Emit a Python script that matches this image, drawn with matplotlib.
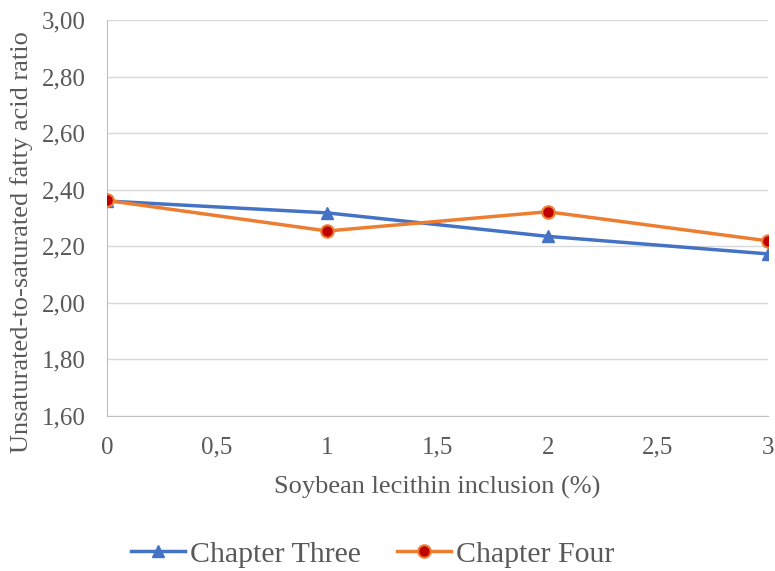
import matplotlib
matplotlib.use("Agg")
import matplotlib.pyplot as plt
from matplotlib.ticker import FuncFormatter

# data
inclusion = [0, 1, 2, 3]
chapter_three = [2.36, 2.318, 2.235, 2.173]
chapter_four = [2.362, 2.254, 2.322, 2.219]

plt.rcParams['font.family'] = ['Liberation Serif', 'DejaVu Serif']
grey = '#595959'

fig = plt.figure(figsize=(7.75, 5.71), dpi=100)
ax = fig.add_axes([0.138, 0.2715, 0.853, 0.6935])

ax.plot(inclusion, chapter_three, color='#4472C4', lw=2.5, marker='^',
        ms=9, mfc='#4472C4', mec='#4472C4', label='Chapter Three', zorder=3)
ax.plot(inclusion, chapter_four, color='#ED7D31', lw=2.5, marker='o',
        ms=9, mfc='#C00000', mec='#ED7D31', mew=1.5, label='Chapter Four', zorder=4)

ax.set_xlim(0, 3)
ax.set_ylim(1.6, 3.0)
ax.set_xticks([0, 0.5, 1, 1.5, 2, 2.5, 3])
ax.set_yticks([1.6, 1.8, 2.0, 2.2, 2.4, 2.6, 2.8, 3.0])
ax.xaxis.set_major_formatter(FuncFormatter(lambda v, p: ('%g' % v).replace('.', ',')))
ax.yaxis.set_major_formatter(FuncFormatter(lambda v, p: ('%.2f' % v).replace('.', ',')))
ax.grid(axis='y', color='#D9D9D9', lw=1)
ax.set_axisbelow(True)
for s in ['top', 'right']:
    ax.spines[s].set_visible(False)
ax.spines['left'].set_color('#BFBFBF')
ax.spines['bottom'].set_color('#BFBFBF')
ax.tick_params(length=0, labelsize=18, labelcolor=grey)
ax.tick_params(axis='y', pad=15)
ax.tick_params(axis='x', pad=15)

ax.set_xlabel('Soybean lecithin inclusion (%)', fontsize=19, color=grey, labelpad=12)
ax.set_ylabel('Unsaturated-to-saturated fatty acid ratio', fontsize=19, color=grey)
ax.yaxis.set_label_coords(-0.112, 0.44)

leg = fig.legend(loc='center', bbox_to_anchor=(0.481, 0.029), ncol=2, frameon=False,
                 fontsize=21.5, handlelength=1.8, columnspacing=1.2, handletextpad=0.17)
for t in leg.get_texts():
    t.set_color(grey)

fig.savefig('out.png', dpi=100)
